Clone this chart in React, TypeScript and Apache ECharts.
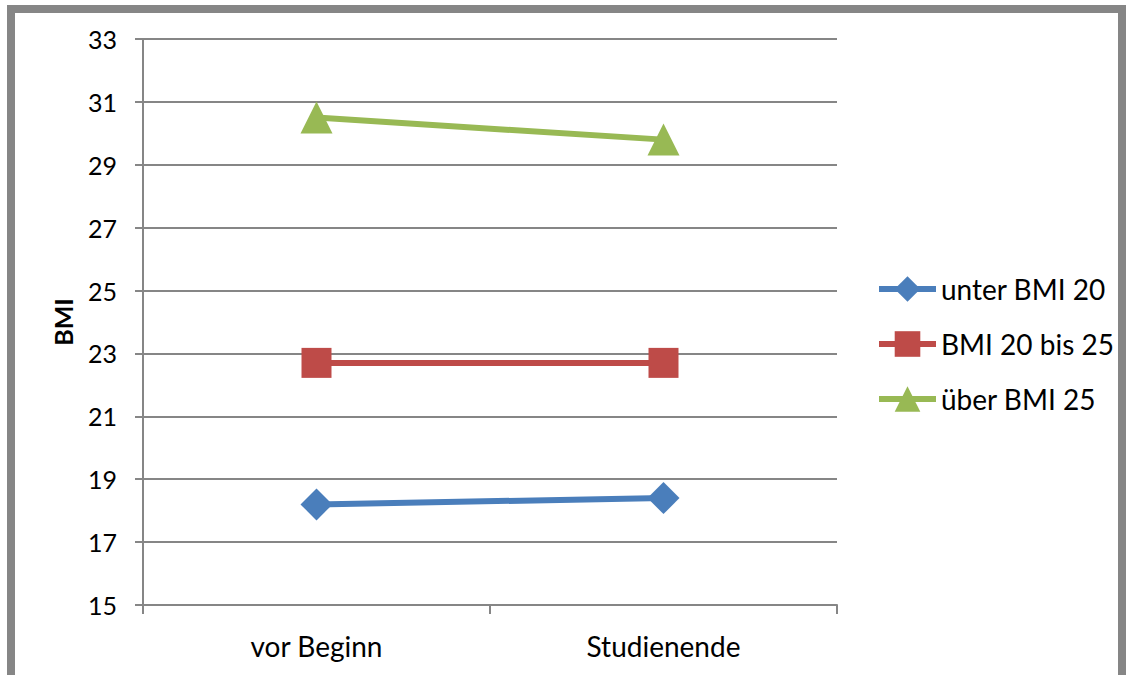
import React, { useEffect, useRef } from "react";
import * as echarts from "echarts";

const categories = ["vor Beginn", "Studienende"];
const unterBMI20 = [18.2, 18.4];
const bmi20bis25 = [22.7, 22.7];
const ueberBMI25 = [30.5, 29.8];
const seriesNames = ["unter BMI 20", "BMI 20 bis 25", "über BMI 25"];

export default function App() {
  const ref = useRef<HTMLDivElement>(null);
  useEffect(() => {
    document.body.style.margin = "0";
    const chart = echarts.init(ref.current!, null, { renderer: "svg" });
    const font = "Lato, 'Open Sans', sans-serif";
    const mk = (name: string, data: number[], color: string, symbol: string, size: number) => ({
      name,
      type: "line",
      data,
      symbol,
      symbolSize: size,
      lineStyle: { color, width: 6 },
      itemStyle: { color },
    });
    chart.setOption({
      animation: false,
      backgroundColor: "#ffffff",
      textStyle: { fontFamily: font },
      graphic: [
        {
          type: "rect",
          shape: { x: 11, y: 9, width: 1111, height: 700 },
          style: { fill: "none", stroke: "#868686", lineWidth: 8 },
          z: -10,
        },
      ],
      grid: { left: 143, top: 39, width: 694, height: 566 },
      legend: {
        orient: "vertical",
        left: 876,
        top: 275,
        padding: 0,
        itemWidth: 57,
        itemHeight: 32,
        itemGap: 27,
        itemStyle: { borderWidth: 0 },
        lineStyle: { width: 6 },
        textStyle: { fontSize: 28, color: "#000", fontFamily: font },
        data: seriesNames,
      },
      xAxis: {
        type: "category",
        data: categories,
        boundaryGap: true,
        axisLine: { lineStyle: { color: "#868686", width: 2 } },
        axisTick: { show: true, length: 9, lineStyle: { color: "#868686", width: 2 } },
        axisLabel: { fontSize: 28, color: "#000", margin: 27, fontFamily: font },
        splitLine: { show: false },
      },
      yAxis: {
        type: "value",
        min: 15,
        max: 33,
        interval: 2,
        name: "BMI",
        nameLocation: "middle",
        nameGap: 68,
        nameTextStyle: { fontSize: 25, fontWeight: "bold", color: "#000", fontFamily: font },
        axisLine: { show: true, lineStyle: { color: "#868686", width: 2 } },
        axisTick: { show: true, length: 8, lineStyle: { color: "#868686", width: 2 } },
        axisLabel: { fontSize: 25, color: "#000", margin: 26, fontFamily: font },
        splitLine: { show: true, lineStyle: { color: "#868686", width: 2 } },
      },
      series: [
        mk(seriesNames[0], unterBMI20, "#4A7EBB", "diamond", 32),
        mk(seriesNames[1], bmi20bis25, "#BE4B48", "rect", 30),
        mk(seriesNames[2], ueberBMI25, "#98B954", "triangle", 32),
      ],
    });
    return () => chart.dispose();
  }, []);
  return <div ref={ref} style={{ position: "fixed", left: 0, top: 0, width: 1132, height: 675 }} />;
}
